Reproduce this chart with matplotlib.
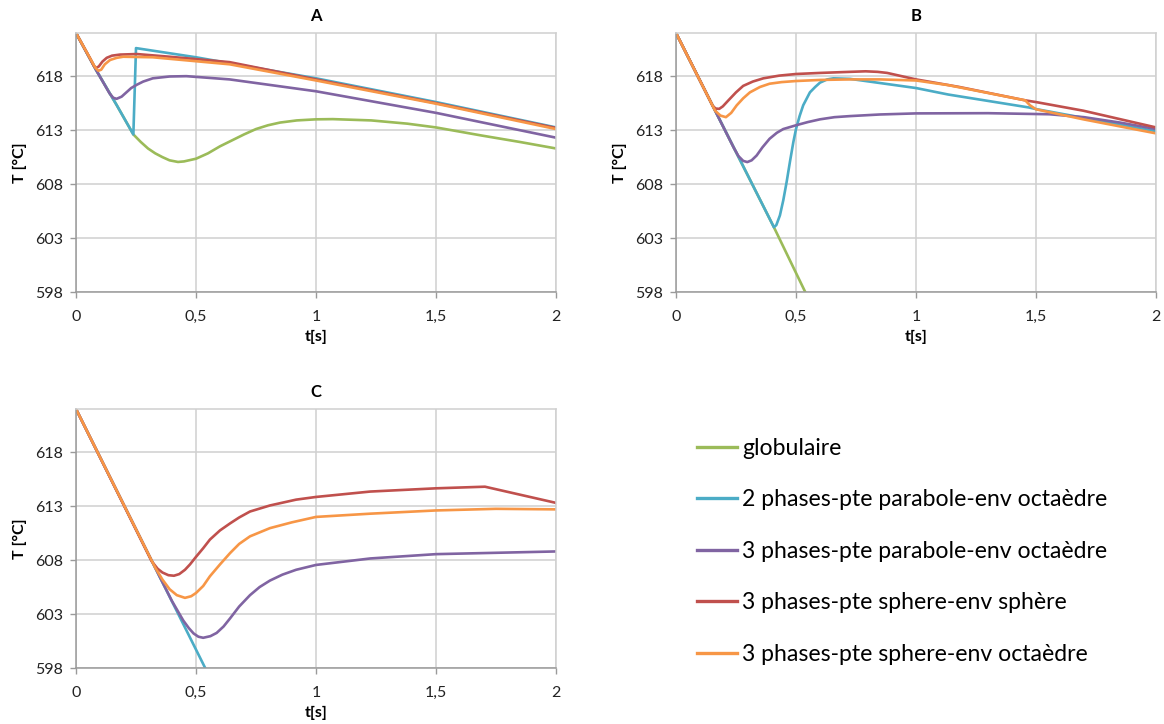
import matplotlib
matplotlib.use("Agg")
import matplotlib.pyplot as plt
from matplotlib.lines import Line2D

plt.rcParams['font.family'] = ['Lato', 'DejaVu Sans']

# ---------------- data ----------------
series_labels = ["globulaire",
                 "2 phases-pte parabole-env octaèdre",
                 "3 phases-pte parabole-env octaèdre",
                 "3 phases-pte sphere-env sphère",
                 "3 phases-pte sphere-env octaèdre"]
series_colors = ["#9BBB59", "#4BACC6", "#8064A2", "#C0504D", "#F79646"]

x_ticks = [0, 0.5, 1, 1.5, 2]
x_tick_labels = ["0", "0,5", "1", "1,5", "2"]
y_ticks = [598, 603, 608, 613, 618]
y_min, y_max = 598, 622

# Panel A
A_glob_t = [0, 0.083, 0.17, 0.239, 0.27, 0.30, 0.33, 0.36, 0.39, 0.425, 0.45, 0.5, 0.55, 0.6, 0.65, 0.7,
            0.75, 0.8, 0.85, 0.92, 1.0, 1.07, 1.23, 1.38, 1.5, 1.69, 1.85, 2.0]
A_glob_T = [622, 618.6, 615.3, 612.6, 611.9, 611.3, 610.85, 610.5, 610.2, 610.05, 610.1, 610.35, 610.85,
            611.5, 612.05, 612.6, 613.1, 613.45, 613.7, 613.9, 614.0, 614.02, 613.9, 613.6, 613.25,
            612.5, 611.9, 611.3]
A_cyan_t = [0, 0.083, 0.17, 0.239, 0.25, 0.5, 0.64, 1.0, 1.5, 2.0]
A_cyan_T = [622, 618.6, 615.3, 612.6, 620.6, 619.75, 619.2, 617.8, 615.6, 613.25]
A_purp_t = [0, 0.083, 0.14, 0.155, 0.169, 0.19, 0.21, 0.23, 0.253, 0.28, 0.32, 0.39, 0.46, 0.64, 1.0, 1.5, 2.0]
A_purp_T = [622, 618.6, 616.4, 616.0, 615.9, 616.1, 616.5, 616.9, 617.2, 617.5, 617.8, 617.97, 618.0,
            617.7, 616.6, 614.6, 612.3]
A_red_t = [0, 0.04, 0.06, 0.075, 0.083, 0.095, 0.11, 0.128, 0.15, 0.183, 0.253, 0.39, 0.64, 1.0, 1.5, 2.0]
A_red_T = [622, 620.4, 619.6, 618.95, 618.75, 618.9, 619.35, 619.7, 619.9, 620.0, 620.05, 619.8, 619.3,
           617.7, 615.5, 613.2]
A_orng_t = [0, 0.04, 0.06, 0.08, 0.093, 0.105, 0.12, 0.142, 0.17, 0.197, 0.32, 0.64, 1.0, 1.5, 2.0]
A_orng_T = [622, 620.4, 619.6, 618.8, 618.5, 618.6, 619.1, 619.5, 619.7, 619.8, 619.75, 619.1, 617.6,
            615.45, 613.1]

# Panel B
B_glob_t = [0, 0.408, 0.545]
B_glob_T = [622, 604.0, 597.7]
B_cyan_t = [0, 0.39, 0.408, 0.418, 0.433, 0.447, 0.461, 0.475, 0.489, 0.5, 0.515, 0.53, 0.558, 0.58, 0.6,
            0.63, 0.656, 0.725, 1.0, 1.134, 1.47, 1.5, 2.0]
B_cyan_T = [622, 604.8, 604.0, 604.2, 605.1, 606.5, 608.2, 610.1, 611.9, 613.1, 614.3, 615.3, 616.5, 617.0,
            617.4, 617.7, 617.8, 617.75, 616.9, 616.3, 615.1, 614.95, 612.9]
B_purp_t = [0, 0.24, 0.26, 0.28, 0.297, 0.315, 0.336, 0.36, 0.39, 0.42, 0.447, 0.5, 0.55, 0.6, 0.66, 0.725,
            0.85, 1.0, 1.3, 1.556, 1.7, 1.85, 2.0]
B_purp_T = [622, 611.4, 610.6, 610.15, 610.04, 610.2, 610.65, 611.4, 612.2, 612.75, 613.1, 613.45, 613.75,
            614.0, 614.2, 614.3, 614.45, 614.55, 614.57, 614.47, 614.2, 613.7, 613.1]
B_red_t = [0, 0.153, 0.165, 0.18, 0.195, 0.218, 0.25, 0.28, 0.32, 0.364, 0.43, 0.5, 0.6, 0.725, 0.79, 0.84,
           0.88, 0.94, 1.0, 1.18, 1.455, 1.5, 1.697, 2.0]
B_red_T = [622, 615.25, 615.0, 614.97, 615.2, 615.75, 616.5, 617.1, 617.5, 617.8, 618.05, 618.2, 618.3,
           618.4, 618.45, 618.4, 618.3, 618.0, 617.7, 617.0, 615.76, 615.6, 614.8, 613.25]
B_orng_t = [0, 0.163, 0.185, 0.208, 0.23, 0.253, 0.28, 0.308, 0.35, 0.39, 0.44, 0.5, 0.6, 0.725, 0.85, 1.0,
            1.134, 1.455, 1.475, 1.5, 1.697, 2.0]
B_orng_T = [622, 614.8, 614.35, 614.2, 614.6, 615.3, 615.95, 616.5, 617.0, 617.3, 617.45, 617.55, 617.65,
            617.7, 617.7, 617.6, 617.17, 615.76, 615.3, 614.93, 614.0, 612.7]

# Panel C
C_cyan_t = [0, 0.545]
C_cyan_T = [622, 597.7]
C_purp_t = [0, 0.35, 0.4, 0.447, 0.47, 0.49, 0.51, 0.53, 0.56, 0.586, 0.615, 0.642, 0.68, 0.725, 0.765,
            0.808, 0.86, 0.917, 1.0, 1.226, 1.5, 2.0]
C_purp_T = [622, 606.4, 604.2, 602.4, 601.7, 601.2, 600.9, 600.8, 600.95, 601.25, 601.85, 602.6, 603.7,
            604.75, 605.5, 606.1, 606.65, 607.1, 607.55, 608.15, 608.55, 608.8]
C_red_t = [0, 0.315, 0.34, 0.36, 0.385, 0.408, 0.43, 0.454, 0.475, 0.5, 0.53, 0.558, 0.6, 0.642, 0.68,
           0.725, 0.808, 0.917, 1.0, 1.226, 1.5, 1.704, 2.0]
C_red_T = [622, 607.9, 607.2, 606.85, 606.6, 606.55, 606.7, 607.1, 607.6, 608.3, 609.1, 609.9, 610.75,
           611.4, 611.95, 612.5, 613.06, 613.6, 613.85, 614.35, 614.65, 614.8, 613.3]
C_orng_t = [0, 0.33, 0.36, 0.39, 0.42, 0.454, 0.48, 0.5, 0.53, 0.558, 0.6, 0.642, 0.68, 0.725, 0.808, 0.9,
            1.0, 1.226, 1.5, 1.75, 2.0]
C_orng_T = [622, 607.3, 606.2, 605.3, 604.75, 604.5, 604.65, 604.95, 605.6, 606.5, 607.6, 608.65, 609.5,
            610.2, 610.96, 611.5, 612.0, 612.3, 612.6, 612.75, 612.7]

panels = [
    ("A", [(0, A_glob_t, A_glob_T), (1, A_cyan_t, A_cyan_T), (2, A_purp_t, A_purp_T),
           (3, A_red_t, A_red_T), (4, A_orng_t, A_orng_T)]),
    ("B", [(0, B_glob_t, B_glob_T), (1, B_cyan_t, B_cyan_T), (2, B_purp_t, B_purp_T),
           (3, B_red_t, B_red_T), (4, B_orng_t, B_orng_T)]),
    ("C", [(1, C_cyan_t, C_cyan_T), (2, C_purp_t, C_purp_T),
           (3, C_red_t, C_red_T), (4, C_orng_t, C_orng_T)]),
]

# ---------------- layout ----------------
W, H = 1164, 724
fig = plt.figure(figsize=(W / 100, H / 100), dpi=100)

def rect(l, t, r, b):
    return [l / W, 1 - b / H, (r - l) / W, (b - t) / H]

positions = [rect(76, 33, 556, 292), rect(676, 33, 1156, 292), rect(76, 409, 556, 668)]

grid_c = "#d0d0d0"
axis_c = "#9a9a9a"
for (title, lines), pos in zip(panels, positions):
    ax = fig.add_axes(pos)
    for idx, t, T in lines:
        ax.plot(t, T, color=series_colors[idx], lw=1.9, solid_joinstyle='round',
                solid_capstyle='round')
    ax.set_xlim(0, 2)
    ax.set_ylim(y_min, y_max)
    ax.set_xticks(x_ticks)
    ax.set_xticklabels(x_tick_labels)
    ax.set_yticks(y_ticks)
    ax.grid(True, color=grid_c, lw=1.1)
    ax.set_axisbelow(True)
    for s in ["top", "right"]:
        ax.spines[s].set_color(grid_c)
        ax.spines[s].set_linewidth(1.1)
    for s in ["left", "bottom"]:
        ax.spines[s].set_color(axis_c)
        ax.spines[s].set_linewidth(1.1)
    ax.tick_params(axis='both', direction='out', length=4, width=1, color=axis_c,
                   labelsize=11.5, labelcolor="#222222")
    ax.tick_params(axis='x', pad=9)
    ax.tick_params(axis='y', pad=5)
    ax.set_xlabel("t[s]", fontsize=11.5, fontweight='bold', labelpad=4)
    ax.set_ylabel("T [°C]", fontsize=11.5, fontweight='bold', labelpad=6)
    ax.text(0.5, 1 + 17 / 259, title, transform=ax.transAxes, ha='center', va='center',
            fontsize=12, fontweight='bold')

handles = [Line2D([0], [0], color=c, lw=2.4) for c in series_colors]
fig.legend(handles, series_labels, loc='upper left',
           bbox_to_anchor=(697 / W, 1 - 438 / H), frameon=False,
           fontsize=16.6, handlelength=1.75, handletextpad=0.2,
           labelspacing=1.32, borderpad=0, borderaxespad=0)

fig.savefig("out.png", dpi=100, facecolor="white")
